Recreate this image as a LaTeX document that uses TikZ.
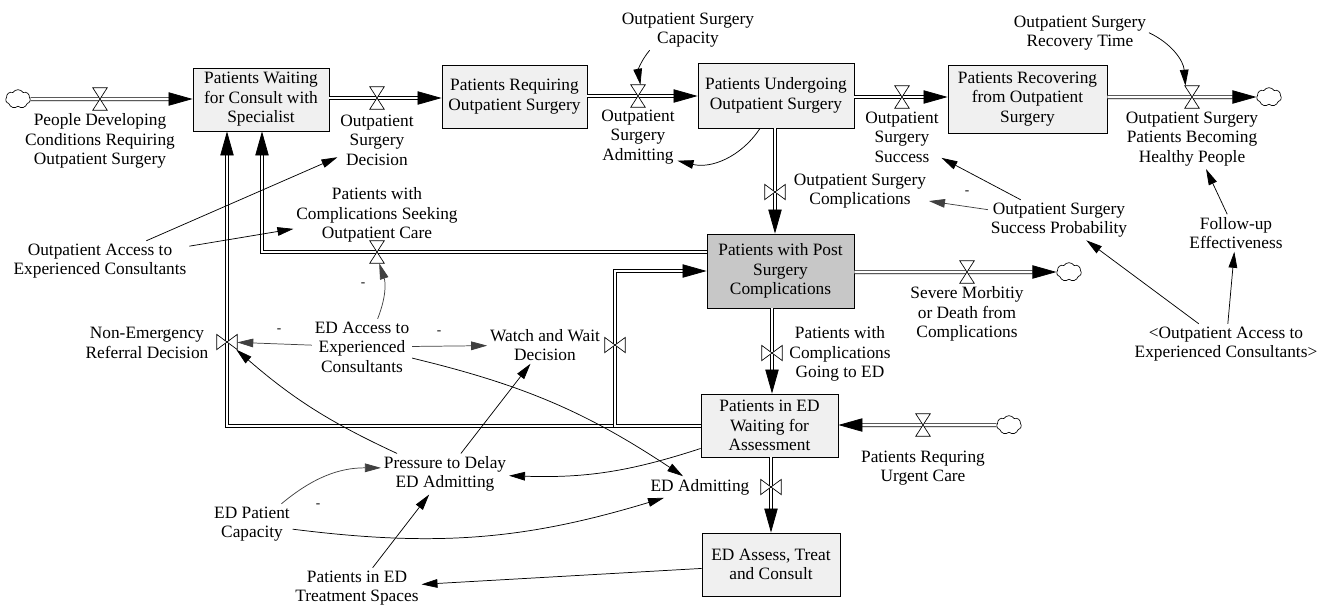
\documentclass[tikz,border=0pt]{standalone}
\usepackage{fontspec}
\setmainfont{Liberation Serif}
\usetikzlibrary{arrows.meta,shapes.symbols}
\tikzset{
  sfstock/.style={rectangle, draw=black, line width=0.6pt, align=center, inner sep=1pt},
  sflab/.style={align=center, inner sep=2pt},
  sfsign/.style={font=\fontsize{10}{12}\selectfont, inner sep=0pt},
  sfpipe/.style={draw=black, line width=0.55pt, double=white, double distance=1.9pt,
                 -{Triangle[length=18pt,width=10pt]}},
  sfcloud/.style={cloud, cloud puffs=7, cloud puff arc=115, aspect=1.3, draw, line width=0.5pt,
                  fill=white, minimum width=18.5pt, minimum height=14pt, inner sep=0pt},
  sflink/.style={line width=0.55pt, -{Triangle[length=12pt,width=6.5pt]}},
  sfneg/.style={sflink, draw=\sfNegCol},
  sfvalveh/.style={inner sep=0pt, minimum width=10.5pt, minimum height=16.5pt},
  sfvalvev/.style={inner sep=0pt, minimum width=15pt, minimum height=11pt},
  valveh/.pic={
    \node[sfvalveh] (-v) {};
    \draw[line width=0.5pt, fill=white] (-v.north west) -- (-v.north east)
      -- (-v.south west) -- (-v.south east) -- cycle;
  },
  valvev/.pic={
    \node[sfvalvev] (-v) {};
    \draw[line width=0.5pt, fill=white] (-v.north west) -- (-v.south west)
      -- (-v.north east) -- (-v.south east) -- cycle;
  },
}
\newcommand{\sfStockCol}{black!6}
\newcommand{\sfPostCol}{black!22}
\newcommand{\sfNegCol}{black!75}

\begin{document}
\begin{tikzpicture}[x=0.75pt, y=0.75pt, font=\fontsize{13}{14.6}\selectfont]
  \useasboundingbox (0,0) rectangle (1328,-608);

  \node[sfstock, fill=\sfStockCol, minimum width=102pt, minimum height=47.25pt] (W) at (261,-99.5)
    {Patients Waiting\\for Consult with\\Specialist};
  \node[sfstock, fill=\sfStockCol, minimum width=108.75pt, minimum height=47.25pt] (R) at (514.5,-96.5)
    {Patients Requiring\\Outpatient Surgery};
  \node[sfstock, fill=\sfStockCol, minimum width=117pt, minimum height=48.75pt] (U) at (776,-95.5)
    {Patients Undergoing\\Outpatient Surgery};
  \node[sfstock, fill=\sfStockCol, minimum width=119.25pt, minimum height=51pt] (Rec) at (1027.5,-99)
    {Patients Recovering\\from Outpatient\\Surgery};
  \node[sfstock, fill=\sfPostCol, minimum width=110.25pt, minimum height=55.5pt] (P) at (780.5,-271)
    {Patients with Post\\Surgery\\Complications};
  \node[sfstock, fill=\sfStockCol, minimum width=102.75pt, minimum height=47.25pt] (E) at (769.5,-425.5)
    {Patients in ED\\Waiting for\\Assessment};
  \node[sfstock, fill=\sfStockCol, minimum width=103.5pt, minimum height=47.25pt] (A) at (771,-564.5)
    {ED Assess, Treat\\and Consult};

  \node[sfcloud] (c1) at (18,-99) {};
  \node[sfcloud] (c2) at (1269,-97) {};
  \node[sfcloud] (c3) at (1069,-272) {};
  \node[sfcloud] (c4) at (1009,-425) {};

  \coordinate (p1) at (100,-99);
  \coordinate (p2) at (377,-98);
  \coordinate (p3) at (638,-96);
  \coordinate (p4) at (902,-97);
  \coordinate (p5) at (1192,-97);
  \coordinate (p6) at (775,-192);
  \coordinate (p7) at (967,-272);
  \coordinate (p8) at (772,-353);
  \coordinate (p9) at (923,-425);
  \coordinate (p10) at (771,-487);
  \coordinate (p11) at (377,-252);
  \coordinate (p12) at (227,-342);
  \coordinate (p13) at (615,-345);
  \coordinate (k11) at (262,-252);
  \coordinate (k12) at (227,-426);
  \coordinate (k13) at (615,-426);
  \coordinate (k14) at (615,-271);

  \draw[sfpipe] (c1) -- (W.west |- p1);
  \draw[sfpipe] (W.east |- p2) -- (R.west |- p2);
  \draw[sfpipe] (R.east |- p3) -- (U.west |- p3);
  \draw[sfpipe] (U.east |- p4) -- (Rec.west |- p4);
  \draw[sfpipe] (Rec.east |- p5) -- (c2);
  \draw[sfpipe] (U.south -| p6) -- (P.north -| p6);
  \draw[sfpipe] (P.east |- p7) -- (c3);
  \draw[sfpipe] (P.south -| p8) -- (E.north -| p8);
  \draw[sfpipe] (c4) -- (E.east |- p9);
  \draw[sfpipe] (E.south -| p10) -- (A.north -| p10);
  \draw[sfpipe] (P.west |- p11) -- (k11) -- (W.south -| k11);
  \draw[sfpipe] (E.west |- k12) -- (k12) -- (W.south -| k12);
  \draw[sfpipe] (E.west |- k13) -- (k13) -- (k14) -- (P.west |- k14);

  \pic (f1) at (p1) {valveh};
  \pic (f2) at (p2) {valveh};
  \pic (f3) at (p3) {valveh};
  \pic (f4) at (p4) {valveh};
  \pic (f5) at (p5) {valveh};
  \pic (f6) at (p6) {valvev};
  \pic (f7) at (p7) {valveh};
  \pic (f8) at (p8) {valvev};
  \pic (f9) at (p9) {valveh};
  \pic (f10) at (p10) {valvev};
  \pic (f11) at (p11) {valveh};
  \pic (f12) at (p12) {valvev};
  \pic (f13) at (p13) {valvev};

  \node[sflab] (l1) at (100,-141) {People Developing\\Conditions Requiring\\Outpatient Surgery};
  \node[sflab] (l2) at (377,-140) {Outpatient\\Surgery\\Decision};
  \node[sflab] (l3) at (638,-137) {Outpatient\\Surgery\\Admitting};
  \node[sflab] (l4) at (902,-137) {Outpatient\\Surgery\\Success};
  \node[sflab] (l5) at (1192,-139) {Outpatient Surgery\\Patients Becoming\\Healthy People};
  \node[sflab] (l6) at (860,-191) {Outpatient Surgery\\Complications};
  \node[sflab] (l7) at (967,-314) {Severe Morbitiy\\or Death from\\Complications};
  \node[sflab] (l8) at (840,-354) {Patients with\\Complications\\Going to ED};
  \node[sflab] (l9) at (923,-468) {Patients Requring\\Urgent Care};
  \node[sflab] (l10) at (700,-487) {ED Admitting};
  \node[sflab] (l11) at (377,-215) {Patients with\\Complications Seeking\\Outpatient Care};
  \node[sflab] (l12) at (147,-343) {Non-Emergency\\Referral Decision};
  \node[sflab] (l13) at (545,-345) {Watch and Wait\\Decision};

  \node[sflab] (oaec) at (100,-261) {Outpatient Access to\\Experienced Consultants};
  \node[sflab] (cap) at (688,-30) {Outpatient Surgery\\Capacity};
  \node[sflab] (rect) at (1080,-33) {Outpatient Surgery\\Recovery Time};
  \node[sflab] (sprob) at (1059,-220) {Outpatient Surgery\\Success Probability};
  \node[sflab] (fup) at (1236,-233) {Follow-up\\Effectiveness};
  \node[sflab] (oaec2) at (1226,-344) {\textless Outpatient Access to\\Experienced Consultants\textgreater};
  \node[sflab] (edacc) at (362,-347) {ED Access to\\Experienced\\Consultants};
  \node[sflab] (press) at (445,-474) {Pressure to Delay\\ED Admitting};
  \node[sflab] (edcap) at (252,-524) {ED Patient\\Capacity};
  \node[sflab] (tspace) at (357,-588) {Patients in ED\\Treatment Spaces};

  \draw[sflink] (cap) to[bend right=25] (f3-v);
  \draw[sflink] (rect) to[bend left=30] (f5-v);
  \draw[sflink] ([xshift=-12pt]U.south) to[bend left=35] (l3);
  \draw[sflink] (sprob) -- (l4);
  \draw[sfneg] (sprob) -- (l6);
  \draw[sflink] (oaec2) -- (sprob);
  \draw[sflink] (oaec2) -- (fup);
  \draw[sflink] (fup) -- (l5);
  \draw[sflink] (oaec) -- (l2);
  \draw[sflink] (oaec) -- (l11);
  \draw[sfneg] (edacc) to[bend right=20] (f11-v);
  \draw[sfneg] (edacc) -- (f12-v);
  \draw[sfneg] (edacc) -- (l13);
  \draw[sflink] (edacc) to[bend left=10] (l10);
  \draw[sflink] (press) to[bend left=8] (f12-v);
  \draw[sflink] (press) -- (l13);
  \draw[sflink] (E) to[bend left=10] (press);
  \draw[sfneg] (edcap) to[bend left=20] (press);
  \draw[sflink] (edcap) to[bend right=12] (l10);
  \draw[sflink] (tspace) -- (press);
  \draw[sflink] (A) -- (tspace);

  \node[sfsign] (s1) at (363,-285) {-};
  \node[sfsign] (s2) at (279,-331) {-};
  \node[sfsign] (s3) at (439,-333) {-};
  \node[sfsign] (s4) at (967,-193) {-};
  \node[sfsign] (s5) at (318,-506) {-};
\end{tikzpicture}
\end{document}
